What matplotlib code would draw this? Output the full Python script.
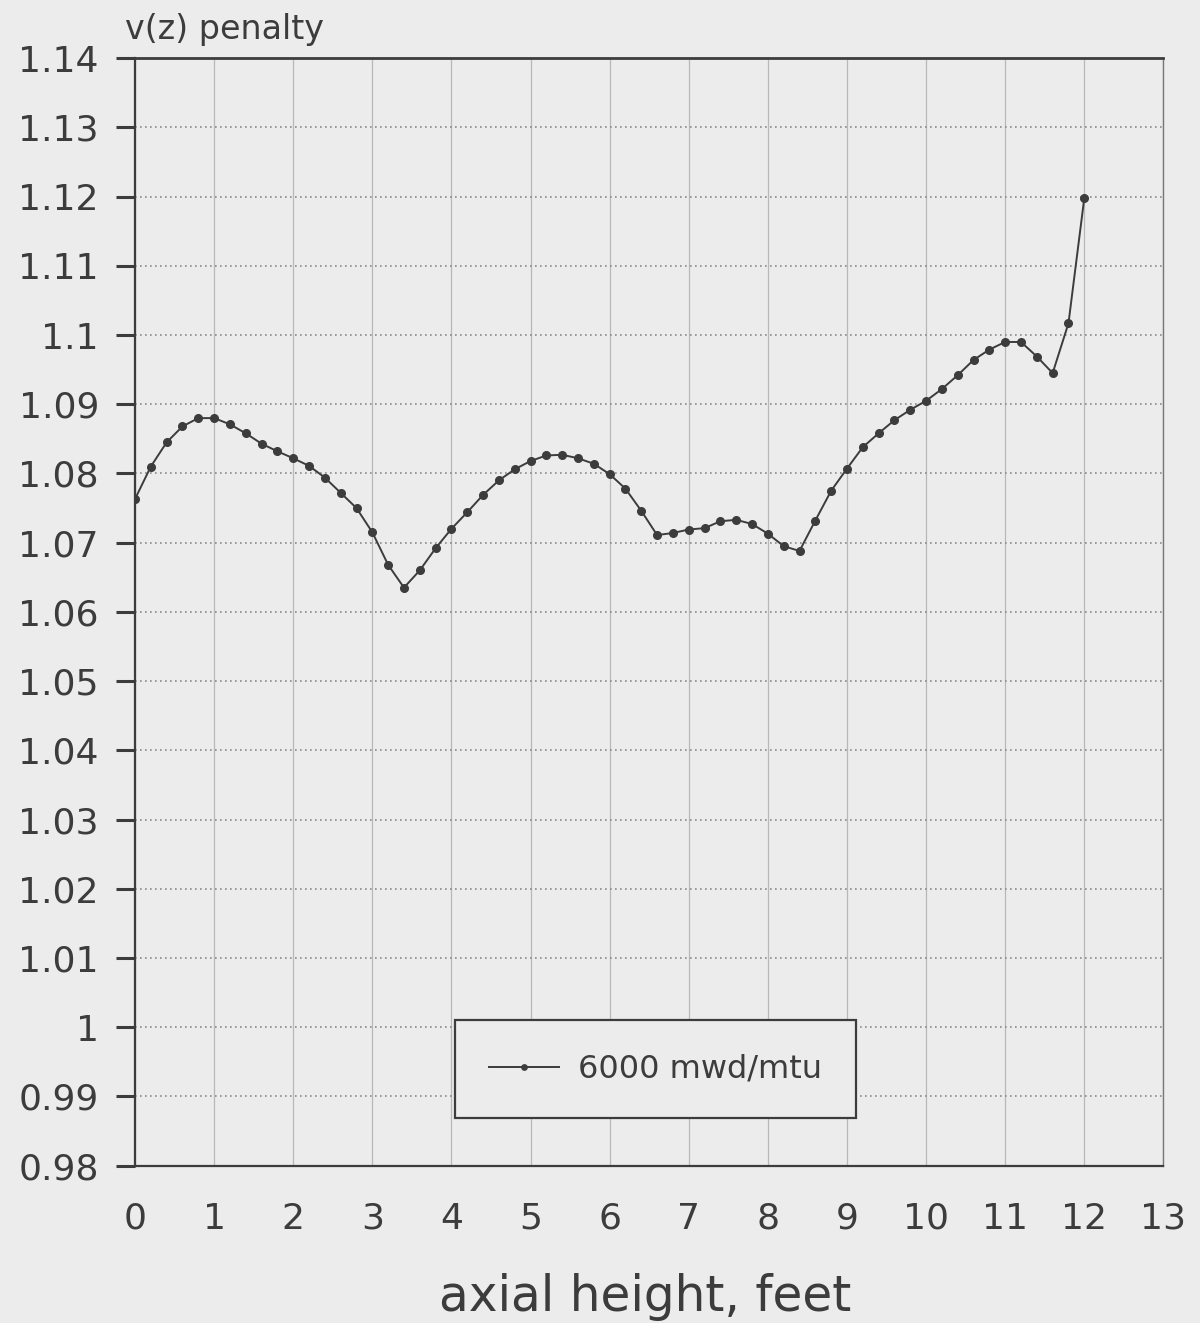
import matplotlib
matplotlib.use("Agg")
import matplotlib.pyplot as plt
from matplotlib.ticker import MultipleLocator, FuncFormatter

# axial height (feet) and v(z) penalty
height = [0.0, 0.2, 0.4, 0.6, 0.8, 1.0, 1.2, 1.4, 1.6, 1.8,
          2.0, 2.2, 2.4, 2.6, 2.8, 3.0, 3.2, 3.4, 3.6, 3.8,
          4.0, 4.2, 4.4, 4.6, 4.8, 5.0, 5.2, 5.4, 5.6, 5.8,
          6.0, 6.2, 6.4, 6.6, 6.8, 7.0, 7.2, 7.4, 7.6, 7.8,
          8.0, 8.2, 8.4, 8.6, 8.8, 9.0, 9.2, 9.4, 9.6, 9.8,
          10.0, 10.2, 10.4, 10.6, 10.8, 11.0, 11.2, 11.4, 11.6, 11.8,
          12.0]
penalty = [1.0763, 1.0810, 1.0845, 1.0868, 1.0880, 1.0880, 1.0871, 1.0858, 1.0843, 1.0832,
           1.0822, 1.0811, 1.0794, 1.0772, 1.0750, 1.0715, 1.0668, 1.0635, 1.0660, 1.0692,
           1.0720, 1.0744, 1.0769, 1.0790, 1.0806, 1.0818, 1.0826, 1.0827, 1.0822, 1.0814,
           1.0799, 1.0778, 1.0746, 1.0711, 1.0714, 1.0719, 1.0721, 1.0731, 1.0733, 1.0727,
           1.0713, 1.0695, 1.0688, 1.0732, 1.0775, 1.0807, 1.0838, 1.0858, 1.0877, 1.0892,
           1.0905, 1.0922, 1.0942, 1.0964, 1.0979, 1.0990, 1.0990, 1.0969, 1.0945, 1.1017,
           1.1198]
series_label = "6000 mwd/mtu"

bg = "#ececec"
ink = "#3c3c3c"

fig = plt.figure(figsize=(12, 13.23), dpi=100, facecolor=bg)
ax = fig.add_axes([0.1125, 0.119, 0.857, 0.837], facecolor=bg)

ax.plot(height, penalty, color=ink, lw=1.4, marker="o", ms=5.5,
        markerfacecolor=ink, markeredgecolor=ink, label=series_label)

ax.set_xlim(0, 13)
ax.set_ylim(0.98, 1.14)
ax.xaxis.set_major_locator(MultipleLocator(1))
ax.yaxis.set_major_locator(MultipleLocator(0.01))
ax.yaxis.set_major_formatter(FuncFormatter(lambda v, p: "%g" % round(v, 2)))

# horizontal dotted grid, vertical thin solid grid
ax.grid(axis="y", color="#8a8a8a", lw=1.2, linestyle=(0, (1, 2)))
ax.grid(axis="x", color="#b8b8b8", lw=0.9, linestyle="-")

for s in ax.spines.values():
    s.set_color(ink)
    s.set_linewidth(1.6)
ax.spines["right"].set_color("#777777")
ax.spines["right"].set_linewidth(1.0)
ax.spines["top"].set_linewidth(2.0)

ax.tick_params(axis="y", direction="out", length=14, width=2.2, color=ink,
               labelsize=26, labelcolor=ink, pad=12)
ax.tick_params(axis="x", direction="in", length=0, labelsize=26,
               labelcolor=ink, pad=26)

fig.text(0.5375, 0.020, "axial height, feet", fontsize=35, color=ink,
         ha="center", va="center")
fig.text(0.104, 0.978, "v(z) penalty", fontsize=24, color=ink,
         ha="left", va="center")

leg = ax.legend(loc="center", bbox_to_anchor=(0.506, 0.087), fontsize=23,
                frameon=True, fancybox=False, framealpha=1, facecolor=bg,
                edgecolor=ink, handlelength=2.2, borderpad=1.05,
                handletextpad=0.6, markerscale=0.7)
leg.get_frame().set_linewidth(1.6)
for t in leg.get_texts():
    t.set_color(ink)

fig.savefig("out.png", dpi=100, facecolor=bg)
